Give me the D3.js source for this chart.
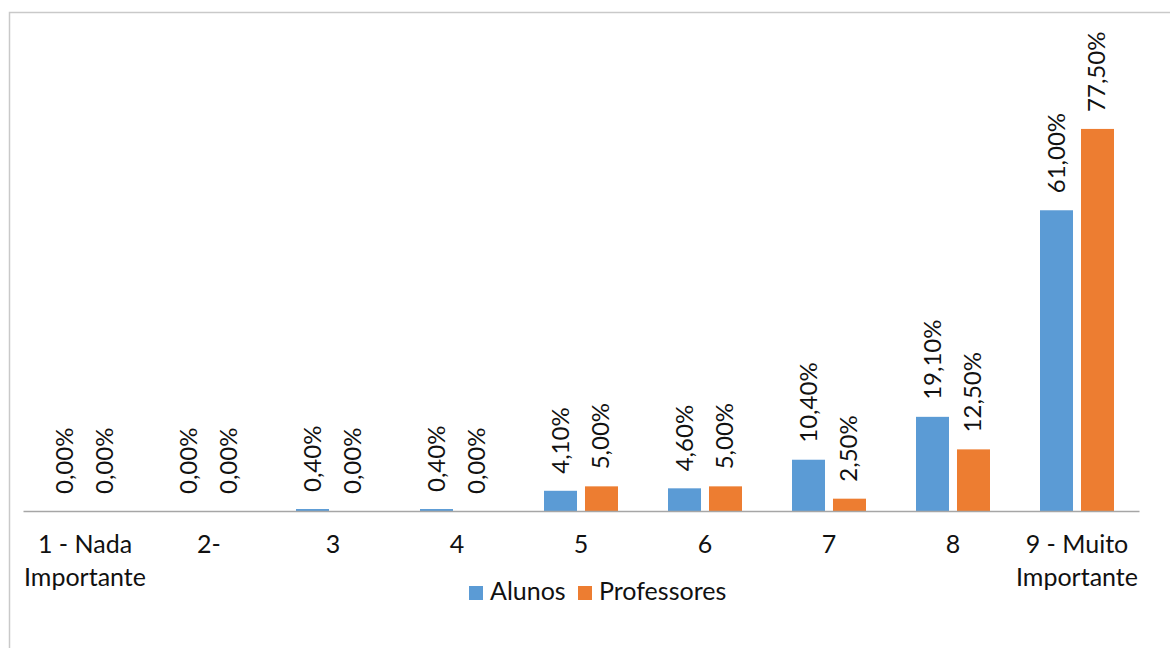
<!DOCTYPE html>
<html>
<head>
<meta charset="utf-8">
<script src="https://cdn.jsdelivr.net/npm/d3@7"></script>
<style>
  html, body { margin: 0; padding: 0; background: #fff; }
  svg { display: block; font-family: Lato, "Noto Sans", sans-serif; }
</style>
</head>
<body>
<svg id="chart" width="1170" height="648"></svg>
<script>
// Importance ratings (1–9) given by students and teachers, in percent
const categories = ["1 - Nada Importante", "2-", "3", "4", "5", "6", "7", "8", "9 - Muito Importante"];
const seriesNames = ["Alunos", "Professores"];
const alunos = [0.0, 0.0, 0.4, 0.4, 4.1, 4.6, 10.4, 19.1, 61.0];
const professores = [0.0, 0.0, 0.0, 0.0, 5.0, 5.0, 2.5, 12.5, 77.5];
const colors = ["#5B9BD5", "#ED7D31"];

const seriesValues = [alunos, professores];
const rows = categories.map((c, i) => ({
  category: c,
  values: seriesNames.map((s, j) => ({ series: s, value: seriesValues[j][i] }))
}));

const svg = d3.select("#chart");
const valueFont = 24;
const labelFont = 25;

// Chart frame
svg.append("rect")
  .attr("x", 9.5).attr("y", 12.5)
  .attr("width", 1200).attr("height", 700)
  .attr("fill", "#fff")
  .attr("stroke", "#C9C9C9").attr("stroke-width", 1.5);

const baseline = 511;
const x0 = d3.scaleBand().domain(categories).range([23, 1139]).padding(0);
const x1 = d3.scaleBand().domain(seriesNames).range([25, 99]).paddingInner(0.195);
const y = d3.scaleLinear().domain([0, 90]).range([baseline, baseline - 90 * 4.93]);
const color = d3.scaleOrdinal().domain(seriesNames).range(colors);

const fmt = v => d3.format(".2f")(v).replace(".", ",") + "%";

const groups = svg.append("g").selectAll("g")
  .data(rows).join("g")
  .attr("transform", d => `translate(${x0(d.category)},0)`);

groups.selectAll("rect")
  .data(d => d.values).join("rect")
  .attr("x", d => x1(d.series))
  .attr("width", x1.bandwidth())
  .attr("y", d => y(d.value))
  .attr("height", d => baseline - y(d.value))
  .attr("fill", d => color(d.series));

// Rotated value labels above each bar
groups.selectAll("text.val")
  .data(d => d.values).join("text")
  .attr("class", "val")
  .attr("transform", d => `translate(${x1(d.series) + x1.bandwidth() / 2 + 8},${y(d.value) - 17}) rotate(-90)`)
  .attr("text-anchor", "start")
  .attr("font-size", valueFont)
  .attr("fill", "#111")
  .text(d => fmt(d.value));

// Category axis
const xAxis = d3.axisBottom(x0).tickSize(0).tickFormat("");
const axisG = svg.append("g").attr("transform", `translate(0,${baseline})`).call(xAxis);
axisG.select(".domain").attr("stroke", "#A6A6A6").attr("stroke-width", 1.5);

// Wrapped category labels
axisG.selectAll(".tick").each(function(d) {
  const tick = d3.select(this);
  const split = d.indexOf(" - ") >= 0 ? d.indexOf(" ", d.indexOf(" - ") + 3) : -1;
  const parts = split >= 0 ? [d.slice(0, split), d.slice(split + 1)] : [d];
  const t = tick.append("text")
    .attr("fill", "#111")
    .attr("font-size", labelFont)
    .attr("text-anchor", "middle")
    .attr("font-family", "Lato, 'Noto Sans', sans-serif");
  parts.forEach((p, i) => {
    t.append("tspan").attr("x", 0).attr("y", 42 + i * 33).text(p);
  });
});

// Legend
const legend = svg.append("g").attr("transform", "translate(469,586)");
const legendItems = [{ name: seriesNames[0], x: 0 }, { name: seriesNames[1], x: 109 }];
legendItems.forEach(item => {
  const g = legend.append("g").attr("transform", `translate(${item.x},0)`);
  g.append("rect").attr("width", 14).attr("height", 14).attr("fill", color(item.name));
  g.append("text").attr("x", 21).attr("y", 14).attr("font-size", labelFont).attr("fill", "#111").text(item.name);
});
</script>
</body>
</html>
